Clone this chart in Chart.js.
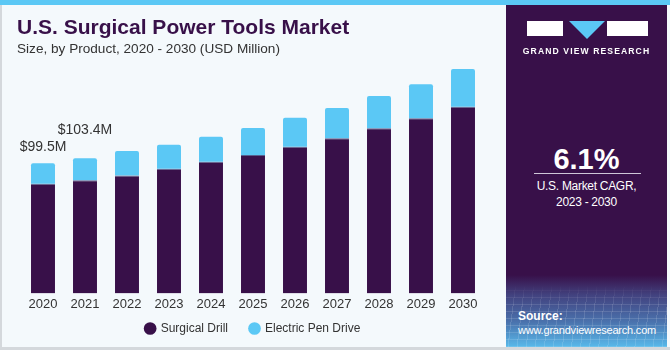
<!DOCTYPE html>
<html>
<head>
<meta charset="utf-8">
<script src="https://cdn.jsdelivr.net/npm/chart.js@4/dist/chart.umd.min.js"></script>
<style>
  html, body { margin: 0; padding: 0; }
  body { width: 670px; height: 350px; position: relative; overflow: hidden; background: #f4f9fc; font-family: "Liberation Sans", Arial, sans-serif; }
  .topbar { position: absolute; left: 0; top: 0; width: 670px; height: 5px; background: #5bc8f5; }
  .leftline { position: absolute; left: 0; top: 5px; width: 2px; height: 345px; background: #d4d8dc; }
  .bottomline { position: absolute; left: 0; top: 347px; width: 670px; height: 3px; background: #d4d8dc; }
  .title { position: absolute; left: 17px; top: 15px; font-size: 21px; font-weight: bold; color: #381049; white-space: nowrap; }
  .subtitle { position: absolute; left: 17px; top: 41px; font-size: 13.6px; color: #333; white-space: nowrap; }
  .chart-box { position: absolute; left: 0; top: 0; width: 506px; height: 347px; }
  .side { position: absolute; left: 506px; top: 5px; width: 161px; height: 342px; background: #381049; overflow: hidden; }
  .side .fade { position: absolute; left: 0; top: 270px; width: 161px; height: 72px;
    background: linear-gradient(180deg, rgba(56,16,73,0) 0%, #42427f 28%, #4a72ad 65%, #58b9ea 100%); }
  .side .mesh { position: absolute; left: 0; top: 280px; width: 161px; height: 62px;
    background:
      repeating-linear-gradient(97deg, rgba(255,255,255,0.13) 0 1px, transparent 1px 9px),
      repeating-linear-gradient(0deg, rgba(255,255,255,0.13) 0 1px, transparent 1px 7px);
    -webkit-mask-image: linear-gradient(180deg, transparent 0%, #000 35%, #000 100%);
    mask-image: linear-gradient(180deg, transparent 0%, #000 35%, #000 100%); }
  .logo { position: absolute; top: 16px; height: 15px; background: #fff; }
  .tri { position: absolute; left: 63px; top: 16px; width: 0; height: 0; border-left: 18.5px solid transparent; border-right: 18.5px solid transparent; border-top: 18px solid #5bc8f5; }
  .brand { position: absolute; left: 0; width: 161px; top: 41px; text-align: center; color: #fff; font-size: 8.6px; font-weight: bold; letter-spacing: 1.1px; }
  .cagr { position: absolute; left: 0; width: 161px; top: 138px; text-align: center; color: #fff; font-size: 29px; font-weight: bold; }
  .rule { position: absolute; left: 28px; top: 168px; width: 107px; height: 1px; background: #cfc6d8; }
  .cagr-text { position: absolute; left: 0; width: 161px; top: 174px; text-align: center; color: #fff; font-size: 12px; letter-spacing: -0.3px; line-height: 15.5px; }
  .source { position: absolute; left: 12px; top: 304px; color: #fff; font-size: 11px; letter-spacing: -0.2px; line-height: 14px; }
  .source b { font-size: 12px; letter-spacing: 0; }
</style>
</head>
<body>
<div class="topbar"></div>
<div class="leftline"></div>
<div class="bottomline"></div>
<div class="chart-box"><canvas id="marketChart" width="506" height="347"></canvas></div>
<div class="title">U.S. Surgical Power Tools Market</div>
<div class="subtitle">Size, by Product, 2020 - 2030 (USD Million)</div>
<div class="side">
  <div class="fade"></div>
  <div class="mesh"></div>
  <div class="logo" style="left:21px;width:36px;"></div>
  <div class="tri"></div>
  <div class="logo" style="left:101px;width:41px;"></div>
  <div class="brand">GRAND VIEW RESEARCH</div>
  <div class="cagr">6.1%</div>
  <div class="rule"></div>
  <div class="cagr-text">U.S. Market CAGR,<br>2023 - 2030</div>
  <div class="source"><b>Source:</b><br>www.grandviewresearch.com</div>
</div>
<script>
const years = ['2020', '2021', '2022', '2023', '2024', '2025', '2026', '2027', '2028', '2029', '2030'];
const surgicalDrill = [83.9, 86.5, 90.3, 95.4, 100.7, 105.9, 112.2, 118.7, 126.4, 134.0, 142.9];
const electricPenDrive = [15.6, 16.9, 18.6, 18.4, 19.2, 20.7, 22.1, 23.2, 24.7, 26.1, 28.7];
const totalLabels = ['$99.5M', '$103.4M'];

const colors = { drill: '#381049', pen: '#5bc8f5', text: '#333333' };
const fontFamily = '"Liberation Sans", Arial, sans-serif';

// the two value labels sit at different heights above their bars
const totalLabelPlugin = {
  id: 'totalLabels',
  afterDatasetsDraw(chart) {
    const ctx = chart.ctx;
    const meta = chart.getDatasetMeta(1);
    const lift = [16, 28];
    ctx.save();
    ctx.font = '14px ' + fontFamily;
    ctx.fillStyle = colors.text;
    ctx.textAlign = 'center';
    ctx.textBaseline = 'middle';
    totalLabels.forEach((text, i) => {
      const bar = meta.data[i];
      ctx.fillText(text, bar.x, bar.y - lift[i]);
    });
    ctx.restore();
  },
};

new Chart(document.getElementById('marketChart'), {
  type: 'bar',
  data: {
    labels: years,
    datasets: [
      { label: 'Surgical Drill', data: surgicalDrill, backgroundColor: colors.drill,
        borderColor: '#56608f', borderWidth: { top: 1, left: 0, right: 0, bottom: 0 } },
      { label: 'Electric Pen Drive', data: electricPenDrive, backgroundColor: colors.pen, borderWidth: 0,
        borderRadius: { topLeft: 2, topRight: 2 }, borderSkipped: 'bottom' },
    ],
  },
  options: {
    responsive: false,
    animation: false,
    barPercentage: 0.571,
    categoryPercentage: 1,
    layout: { padding: { left: 22, right: 22, top: 32, bottom: 2.5 } },
    plugins: {
      legend: {
        position: 'bottom',
        // empty title with negative padding pulls the legend box up without shrinking item gaps
        title: { display: true, text: '', font: { size: 1 }, padding: { top: -15.7, bottom: 0 } },
        labels: {
          usePointStyle: true,
          pointStyle: 'circle',
          boxWidth: 9,
          boxHeight: 9,
          padding: 22,
          color: colors.text,
          generateLabels(chart) {
            const items = Chart.defaults.plugins.legend.labels.generateLabels(chart);
            items.forEach(item => { item.lineWidth = 0; });
            return items;
          },
          font: { family: fontFamily, size: 12 },
        },
      },
      tooltip: { enabled: false },
    },
    scales: {
      x: {
        stacked: true,
        grid: { display: false, drawTicks: false },
        border: { display: false },
        ticks: { color: colors.text, padding: 3, font: { family: fontFamily, size: 13 } },
      },
      y: {
        stacked: true,
        display: false,
        min: 0,
        max: 200,
      },
    },
  },
  plugins: [totalLabelPlugin],
});
</script>
</body>
</html>
